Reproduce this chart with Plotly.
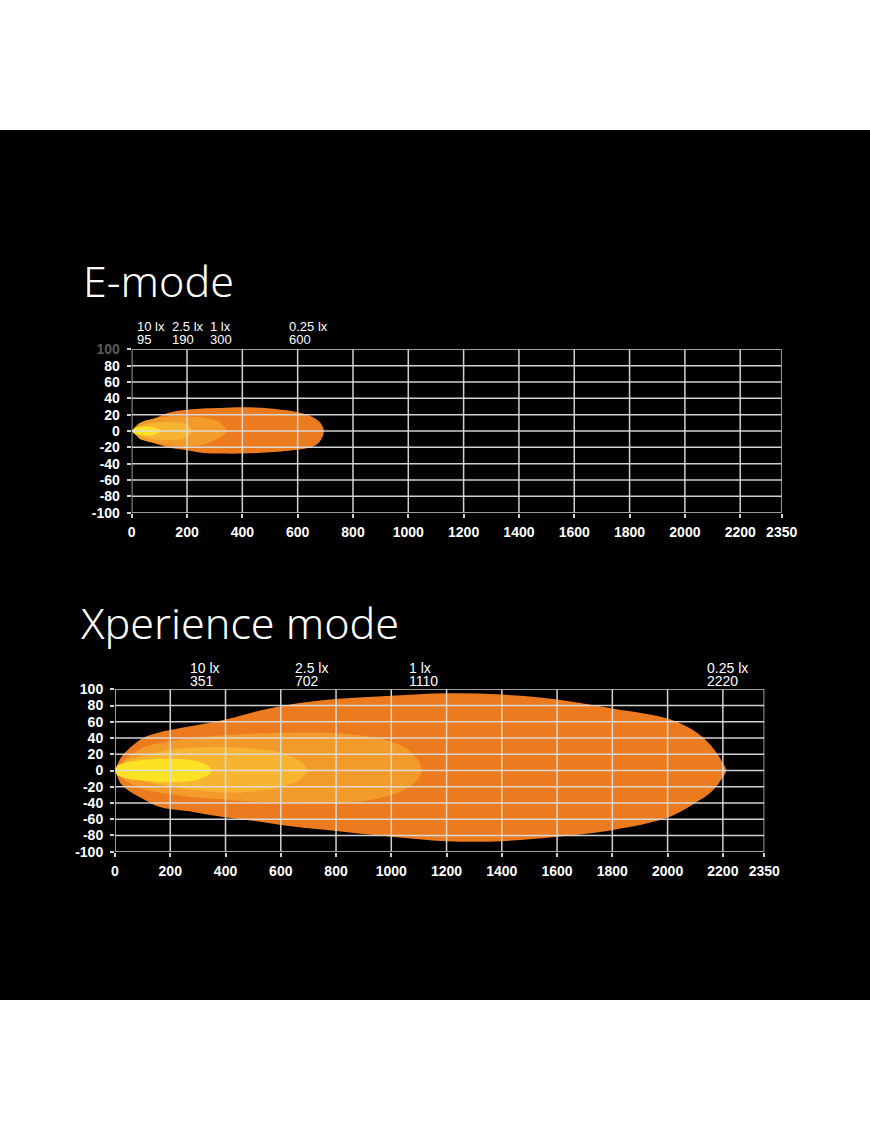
import plotly.graph_objects as go

# ---------------- data ----------------
x_ticks = [0, 200, 400, 600, 800, 1000, 1200, 1400, 1600, 1800, 2000, 2200, 2350]
y_ticks = [-100, -80, -60, -40, -20, 0, 20, 40, 60, 80, 100]

lux_levels = ["10 lx", "2.5 lx", "1 lx", "0.25 lx"]
e_distances = [95, 190, 300, 600]
x_distances = [351, 702, 1110, 2220]

# E-mode isolux contours (distance m, upper / lower spread m)
e_025_x = [0, 30, 78, 138, 199, 259, 319, 403, 500, 605, 657, 681, 695]
e_025_up = [0, 8, 15, 22.7, 26, 27.6, 28, 29, 27.6, 22.7, 16.5, 10.3, 0]
e_025_lo = [0, -8, -14.4, -20.6, -23.5, -26.8, -27.6, -27.6, -26, -22.7, -18.6, -12.4, 0]

e_1_x = [0, 30, 78, 138, 199, 259, 307, 337, 343]
e_1_up = [0, 10, 15, 17.7, 17.7, 16.5, 12.4, 4, 0]
e_1_lo = [0, -10, -14.4, -17, -18.6, -16.5, -10, -4, 0]

e_25_x = [0, 30, 78, 138, 199, 216]
e_25_up = [0, 6, 10, 11, 8, 0]
e_25_lo = [0, -6, -10, -11, -8, 0]

e_10_x = [0, 10, 40, 80, 105]
e_10_up = [0, 3.5, 5.5, 4.5, 0]
e_10_lo = [0, -3.5, -5.5, -4.5, 0]

# Xperience mode isolux contours
x_025_x = [0, 18, 42, 102, 163, 283, 404, 525, 645, 800, 1000, 1200, 1400, 1600, 1800, 2000, 2100, 2160, 2200, 2212]
x_025_up = [0, 14, 24, 40, 47, 55, 63, 74, 82, 88, 92, 95, 93.5, 87.5, 76.5, 64, 48, 29.5, 9, 0]
x_025_lo = [0, -15, -23, -35, -45, -51, -58, -63, -69, -74.5, -81.5, -87, -87, -81.6, -73.5, -58, -40, -26, -8, 0]

x_1_x = [0, 24, 102, 199, 283, 404, 525, 645, 800, 946, 1040, 1090, 1110]
x_1_up = [0, 10, 28, 36, 39.6, 43.7, 45.8, 46.6, 45.8, 40, 30, 15.7, 0]
x_1_lo = [0, -10, -23, -29, -33, -36, -39, -40, -40, -35, -25, -13, 0]

x_25_x = [0, 42, 102, 200, 283, 400, 525, 600, 670, 697]
x_25_up = [0, 12, 17.7, 26, 28, 28.9, 26, 22, 11.5, 0]
x_25_lo = [0, -8, -13, -20, -24, -27, -25, -20, -11, 0]

x_10_x = [0, 8, 42, 102, 200, 290, 336, 350]
x_10_up = [0, 6, 10, 13, 14.5, 12, 6, 0]
x_10_lo = [0, -6, -10, -12.5, -14.5, -12, -6, 0]

# ---------------- style ----------------
COL_025 = "#EC7A1E"
COL_1 = "#F39B2A"
COL_25 = "#F7B431"
COL_10 = "#FCE224"
GRID = "rgba(220,220,220,0.95)"

W, H = 870, 1131


def poly(xs, up, lo):
    px = list(xs) + list(xs[-2:0:-1])
    py = list(up) + list(lo[-2:0:-1])
    return px, py


fig = go.Figure()

layers = [
    ("x", "y", [(e_025_x, e_025_up, e_025_lo, COL_025), (e_1_x, e_1_up, e_1_lo, COL_1),
                (e_25_x, e_25_up, e_25_lo, COL_25), (e_10_x, e_10_up, e_10_lo, COL_10)]),
    ("x2", "y2", [(x_025_x, x_025_up, x_025_lo, COL_025), (x_1_x, x_1_up, x_1_lo, COL_1),
                  (x_25_x, x_25_up, x_25_lo, COL_25), (x_10_x, x_10_up, x_10_lo, COL_10)]),
]
for xa, ya, contours in layers:
    for xs, up, lo, col in contours:
        px, py = poly(xs, up, lo)
        fig.add_trace(go.Scatter(x=px, y=py, xaxis=xa, yaxis=ya, mode="lines",
                                 fill="toself", fillcolor=col,
                                 line=dict(width=0, color=col, shape="spline", smoothing=1),
                                 hoverinfo="skip", showlegend=False))

# background band
shapes = [dict(type="rect", xref="paper", yref="paper", x0=0, x1=1,
               y0=1 - 1000 / H, y1=1 - 130 / H, fillcolor="black", line=dict(width=0), layer="below")]
for xa, ya in [("x", "y"), ("x2", "y2")]:
    for xv in x_ticks:
        shapes.append(dict(type="line", xref=xa, yref=ya, x0=xv, x1=xv, y0=y_ticks[0], y1=y_ticks[-1],
                           line=dict(color=GRID, width=1.5), layer="above"))
    for yv in y_ticks:
        shapes.append(dict(type="line", xref=xa, yref=ya, x0=x_ticks[0], x1=x_ticks[-1], y0=yv, y1=yv,
                           line=dict(color=GRID, width=1.5), layer="above"))

TICKFONT = dict(family="Liberation Sans, Arial, sans-serif", size=14, color="white", weight="bold")

# domains (pixels -> paper)
d1x = [131.7 / W, 781.7 / W]
d1y = [1 - 512.7 / H, 1 - 349.3 / H]
d2x = [115 / W, 764.3 / W]
d2y = [1 - 851.7 / H, 1 - 689.3 / H]

y_text_1 = [str(v) for v in y_ticks]
y_text_1[-1] = "<span style='color:#5a5a5a'>100</span>"
y_text_2 = [str(v) for v in y_ticks]


def xaxis(domain, anchor):
    return dict(domain=domain, anchor=anchor, range=[x_ticks[0], x_ticks[-1]], showgrid=False,
                zeroline=False, showline=False, tickmode="array", tickvals=x_ticks,
                ticktext=[str(v) for v in x_ticks], ticks="outside", ticklen=4, tickwidth=1.5,
                tickcolor=GRID, tickfont=TICKFONT, ticklabelstandoff=2, automargin=False)


def yaxis(domain, anchor, text):
    return dict(domain=domain, anchor=anchor, range=[y_ticks[0], y_ticks[-1]], showgrid=False,
                zeroline=False, showline=False, tickmode="array", tickvals=y_ticks, ticktext=text,
                ticks="outside", ticklen=4, tickwidth=1.5, tickcolor=GRID, tickfont=TICKFONT,
                ticklabelstandoff=4, automargin=False)


TITLEFONT = dict(family="Noto Sans", size=43, color="white", weight=300)
annotations = [
    dict(text="E-mode", xref="paper", yref="paper", x=81 / W, y=1 - 280 / H, xanchor="left",
         yanchor="middle", showarrow=False, font=TITLEFONT),
    dict(text="Xperience mode", xref="paper", yref="paper", x=79 / W, y=1 - 622 / H, xanchor="left",
         yanchor="middle", showarrow=False, font=TITLEFONT),
]

e_shift = [-23, -14, -7, -11]
x_shift = [-24, -16, -15, -23]
for xref, top, dists, shifts, s_num, s_lux, fs in [("x", d1y[1], e_distances, e_shift, 10, 22.5, 13),
                                                    ("x2", d2y[1], x_distances, x_shift, 8.5, 21, 14)]:
    labfont = dict(family="Liberation Sans, Arial, sans-serif", size=fs, color="white")
    for lux, dist, sh in zip(lux_levels, dists, shifts):
        annotations.append(dict(text=str(dist), xref=xref, yref="paper", x=dist, y=top,
                                xanchor="left", yanchor="middle", xshift=sh, yshift=s_num,
                                showarrow=False, font=labfont))
        annotations.append(dict(text=lux, xref=xref, yref="paper", x=dist, y=top,
                                xanchor="left", yanchor="middle", xshift=sh, yshift=s_lux,
                                showarrow=False, font=labfont))

fig.update_layout(
    width=W, height=H, autosize=False,
    margin=dict(l=0, r=0, t=0, b=0, pad=0, autoexpand=False),
    paper_bgcolor="white", plot_bgcolor="black",
    xaxis=xaxis(d1x, "y"), yaxis=yaxis(d1y, "x", y_text_1),
    xaxis2=xaxis(d2x, "y2"), yaxis2=yaxis(d2y, "x2", y_text_2),
    shapes=shapes, annotations=annotations, showlegend=False,
)

fig.write_html("out.html", config={"displayModeBar": False})

# remove default page margins so the figure fills the window exactly
with open("out.html", "r", encoding="utf-8") as f:
    html = f.read()
html = html.replace("<head>", "<head><style>html,body{margin:0;padding:0;overflow:hidden;}</style>", 1)
with open("out.html", "w", encoding="utf-8") as f:
    f.write(html)
